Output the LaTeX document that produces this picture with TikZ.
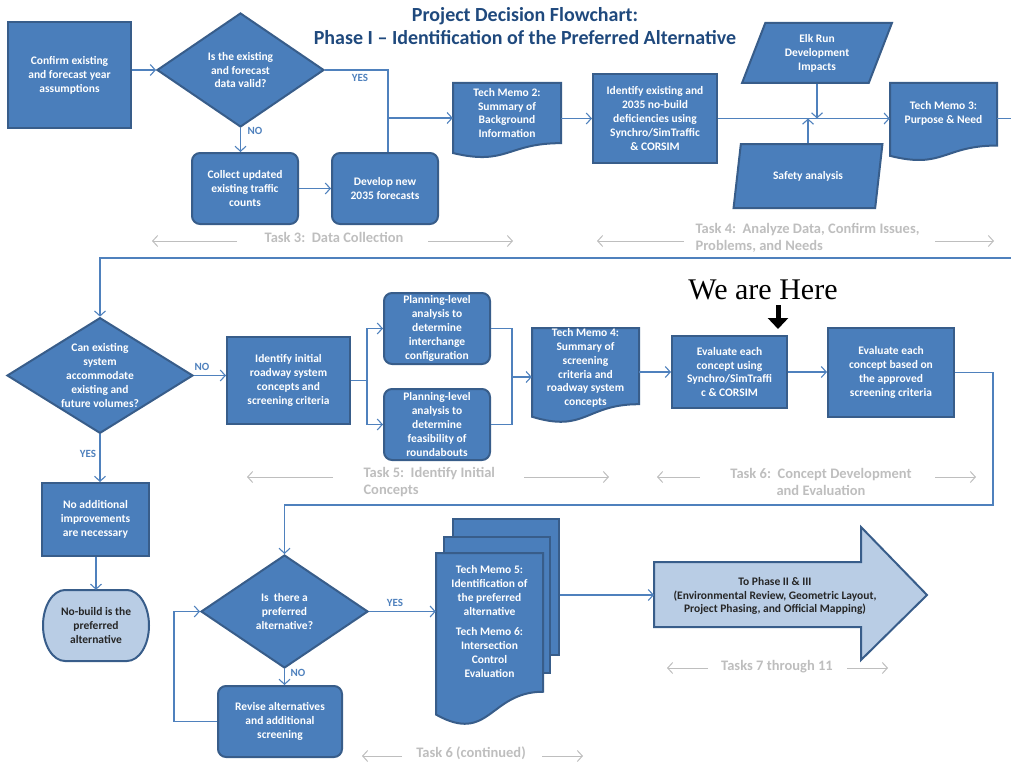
\documentclass[tikz,border=0pt]{standalone}
\usepackage{fontspec}
\setmainfont{Carlito}
\newfontfamily\herefont{Liberation Serif}
\usetikzlibrary{arrows.meta,shapes.geometric}

\definecolor{boxblue}{RGB}{74,126,187}
\definecolor{edgeblue}{RGB}{56,93,138}
\definecolor{lineblue}{RGB}{79,129,189}
\definecolor{paleblue}{RGB}{185,205,229}
\definecolor{titleblue}{RGB}{31,73,125}
\definecolor{taskgray}{RGB}{190,190,190}
\definecolor{darktext}{RGB}{38,38,38}

% document outline: left, top, width, height
\newcommand{\docshape}[4]{%
  \draw[box] (#1,#2) -- ({#1+#3},#2) -- ({#1+#3},{#2+0.802*#4})
    .. controls ({#1+0.5*#3},{#2+0.802*#4}) and ({#1+0.5*#3},{#2+1.107*#4}) .. (#1,{#2+0.934*#4}) -- cycle;}

\begin{document}
\begin{tikzpicture}[x=1pt,y=-1pt,
  every node/.style={font=\fontsize{11.5}{13.9}\selectfont\bfseries, text=white, align=center},
  box/.style={draw=edgeblue, fill=boxblue, line width=2pt},
  sq/.style={box, rectangle, inner sep=1pt},
  rnd/.style={box, rectangle, rounded corners=8pt, inner sep=1pt},
  dia/.style={box, diamond, aspect=1.5, inner sep=0pt},
  para/.style={box, trapezium, trapezium left angle=69, trapezium right angle=111,
               trapezium stretches=true, inner sep=0pt},
  termbox/.style={draw=edgeblue, fill=paleblue, line width=2pt},
  flow/.style={draw=lineblue, line width=1.1pt, -{Straight Barb[length=5pt,width=11pt]}},
  link/.style={draw=lineblue, line width=1.1pt},
  answer/.style={text=lineblue, font=\fontsize{11}{12}\selectfont\bfseries},
  tasktxt/.style={text=taskgray, font=\fontsize{14.5}{17.5}\selectfont\bfseries},
  taskarrow/.style={draw=taskgray, line width=1pt, -{Straight Barb[length=5pt,width=11pt]}},
  pointer/.style={draw=black, line width=5pt, -{Triangle[length=11pt,width=20pt]}}]

\clip (0,0) rectangle (1011,765);

\node[text=titleblue, font=\fontsize{20}{23}\selectfont\bfseries] (title) at (525,26.5)
  {Project Decision Flowchart:\\Phase I – Identification of the Preferred Alternative};

% row 1: data collection and analysis
\node[sq, minimum width=123pt, minimum height=106pt] (confirm) at (69.5,75) {Confirm existing\\and  forecast year\\assumptions};
\node[dia, minimum width=167pt, minimum height=114pt] (valid) at (240.5,70) {Is the existing\\and forecast\\data valid?};
\node[rnd, minimum width=106pt, minimum height=71pt] (collect) at (245,188.5) {Collect updated\\existing traffic\\counts};
\node[rnd, minimum width=106pt, minimum height=71pt] (develop) at (385,188.5) {Develop new\\2035 forecasts};
\docshape{453}{83}{108}{75}
\node[minimum width=108pt, minimum height=60pt, inner sep=0pt] (tm2) at (507,113) {Tech Memo 2:\\Summary of\\Background\\Information};
\node[sq, minimum width=124pt, minimum height=89pt] (identify) at (655,118.5) {Identify existing and\\2035 no-build\\deficiencies using\\Synchro/SimTraffic\\\& CORSIM};
\node[para, minimum width=150pt, minimum height=60pt] (elk) at (817,53) {Elk Run\\Development\\Impacts};
\node[para, minimum width=150pt, minimum height=64pt] (safety) at (808,176) {Safety analysis};
\docshape{890}{83}{107}{78}
\node[minimum width=107pt, minimum height=62pt, inner sep=0pt] (tm3) at (943.5,113) {Tech Memo 3:\\Purpose \& Need};

\coordinate (yesjoin) at (388,118);
\coordinate (rowturn1) at (1020,258);
\draw[flow] (confirm.east |- valid.west) -- (valid.west);
\draw[link] (valid.east) -| (yesjoin) -- (yesjoin |- develop.north);
\draw[flow] (yesjoin) -- (yesjoin -| tm2.west);
\node[answer] (yes1) at (360,78) {YES};
\draw[flow] (valid.south) -- (valid.south |- collect.north);
\node[answer] (no1) at (255,131) {NO};
\draw[flow] (collect) -- (develop);
\draw[flow] (tm2.east |- identify.west) -- (identify.west);
\draw[flow] (identify.east) -- (identify.east -| tm3.west);
\draw[flow] (elk.south) -- (elk.south |- identify.east);
\draw[flow] (safety.north) -- (safety.north |- identify.east);

\node[tasktxt] (task3) at (334,237) {Task 3:\ \ Data Collection};
\draw[taskarrow] (237,241) -- (152,241);
\draw[taskarrow] (428,241) -- (513,241);
\node[tasktxt, align=left, anchor=west] (task4) at (692,238) {Task 4:\ \ Analyze Data, Confirm Issues,\\Problems, and Needs};
\draw[taskarrow] (684,241) -- (597,241);
\draw[taskarrow] (935,241) -- (994,241);

% row 2: concepts
\node[dia, minimum width=186pt, minimum height=115pt] (can) at (100,375.5) {Can existing\\system\\accommodate\\existing and\\future volumes?};
\draw[flow] (tm3.east |- identify.east) -| (rowturn1) -| (can.north);
\node[sq, minimum width=123pt, minimum height=87pt] (initial) at (288.5,380.5) {Identify initial\\roadway system\\concepts and\\screening criteria};
\draw[flow] (can.east) -- (can.east -| initial.west);
\node[answer] (no2) at (202,367) {NO};
\node[rnd, minimum width=106pt, minimum height=71pt] (plan1) at (437,328.5) {Planning-level\\analysis to\\determine\\interchange\\configuration};
\node[rnd, minimum width=106pt, minimum height=71pt] (plan2) at (437,424.5) {Planning-level\\analysis to\\determine\\feasibility of\\roundabouts};
\coordinate (split) at (367,380.5);
\coordinate (merge) at (512,377);
\draw[link] (initial.east) -- (split);
\draw[flow] (split) |- (plan1.west);
\draw[flow] (split) |- (plan2.west);
\draw[link] (plan1.east) -| (merge) |- (plan2.east);
\docshape{532}{328}{107}{95}
\node[minimum width=107pt, minimum height=76pt, inner sep=0pt] (tm4) at (585.5,368) {Tech Memo 4:\\Summary of\\screening\\criteria and\\roadway system\\concepts};
\draw[flow] (merge) -- (merge -| tm4.west);
\node[sq, minimum width=115pt, minimum height=72pt] (eval1) at (729.5,372) {Evaluate each\\concept using\\Synchro/SimTraffi\\c \& CORSIM};
\draw[flow] (tm4.east |- eval1.west) -- (eval1.west);
\node[sq, minimum width=126pt, minimum height=89pt] (eval2) at (891,372.5) {Evaluate each\\concept based on\\the approved\\screening criteria};
\draw[flow] (eval1.east) -- (eval1.east -| eval2.west);
\node[text=black, font=\herefont\fontsize{30}{32}\selectfont] (here) at (763,290) {We are Here};
\coordinate (herehit) at (778,329);
\draw[pointer] (778,305) -- (herehit);

\node[tasktxt, align=left, anchor=west] (task5) at (360,482) {Task 5:\ \ Identify Initial\\Concepts};
\draw[taskarrow] (333,477) -- (247,477);
\draw[taskarrow] (524,477) -- (609,477);
\node[tasktxt] (task6) at (821,482) {Task 6:\ \ Concept Development\\and Evaluation};
\draw[taskarrow] (700,477) -- (657,477);
\draw[taskarrow] (935,477) -- (976,477);

\node[sq, minimum width=107pt, minimum height=73pt] (nobox) at (95.5,519.5) {No additional\\improvements\\are necessary};
\draw[flow] (can.south) -- (can.south |- nobox.north);
\node[answer] (yes2) at (88,454) {YES};
\draw[termbox] (65,590) -- (127,590) arc[start angle=-90, end angle=90, x radius=22, y radius=35.5]
  -- (65,661) arc[start angle=90, end angle=270, x radius=22, y radius=35.5] -- cycle;
\node[text=darktext, minimum width=106pt, minimum height=71pt, inner sep=0pt] (nobuild) at (96,625.5) {No-build is the\\preferred\\alternative};
\draw[flow] (nobox.south -| nobuild.north) -- (nobuild.north);

% row 3: preferred alternative
\coordinate (rowturn2) at (993,505);
\node[dia, minimum width=167pt, minimum height=113pt] (pref) at (284.5,611.5) {Is\ \ there a\\preferred\\alternative?};
\draw[flow] (eval2.east) -| (rowturn2) -| (pref.north);
\node[rnd, minimum width=124pt, minimum height=71pt] (revise) at (280,721.5) {Revise alternatives\\and additional\\screening};
\draw[flow] (pref.south) -- (pref.south |- revise.north);
\node[answer] (no3) at (298,673) {NO};
\coordinate (backturn) at (174,721.5);
\draw[flow] (revise.west) -- (backturn) |- (pref.west);

\node[box, rectangle, minimum width=106pt, minimum height=136pt, inner sep=0pt] (page1) at (506,587) {};
\node[box, rectangle, minimum width=106pt, minimum height=136pt, inner sep=0pt] (page2) at (497,605) {};
\docshape{436}{553}{107}{173}
\node[minimum width=107pt, inner sep=0pt] (tm56) at (489.5,621.5) {Tech Memo 5:\\Identification of\\the preferred\\alternative\\[7pt]Tech Memo 6:\\Intersection\\Control\\Evaluation};
\draw[flow] (pref.east) -- (pref.east -| tm56.west);
\node[answer] (yes3) at (395,603) {YES};

\draw[draw=edgeblue, fill=paleblue, line width=2pt] (654,562) -- (861,562) -- (861,527) -- (927,595)
  -- (861,660) -- (861,627) -- (654,627) -- cycle;
\node[text=darktext] (phase) at (775,596) {To Phase II \& III\\(Environmental Review, Geometric Layout,\\Project Phasing, and Official Mapping)};
\coordinate (phasein) at (654,595);
\draw[flow] (page1.east |- phasein) -- (phasein);

\node[tasktxt] (task7) at (777,667) {Tasks 7 through 11};
\draw[taskarrow] (708,668) -- (667,668);
\draw[taskarrow] (847,668) -- (888,668);
\node[tasktxt] (task6b) at (471,753) {Task 6 (continued)};
\draw[taskarrow] (402,756) -- (362,756);
\draw[taskarrow] (542,756) -- (583,756);

\end{tikzpicture}
\end{document}
